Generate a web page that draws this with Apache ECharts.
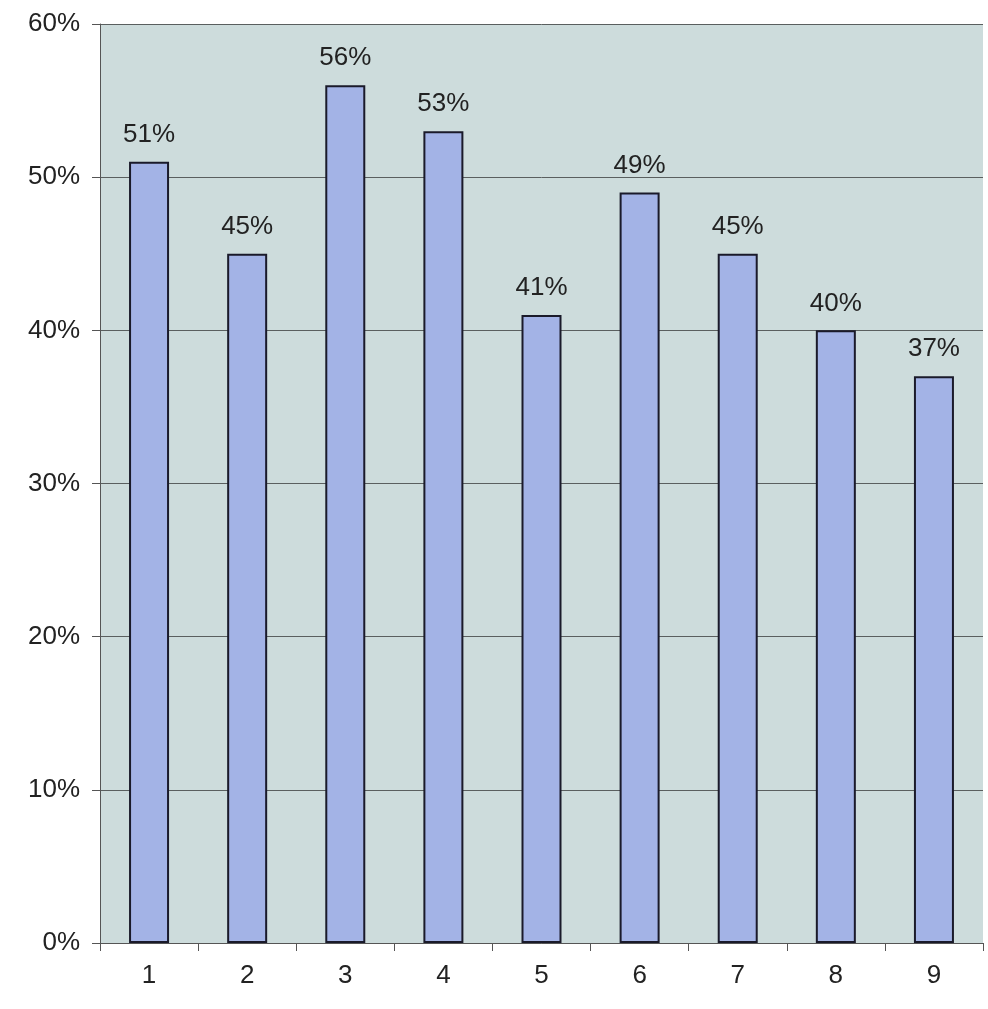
<!DOCTYPE html>
<html>
<head>
<meta charset="utf-8">
<script src="https://cdn.jsdelivr.net/npm/echarts@6/dist/echarts.min.js"></script>
<style>
  html, body { margin: 0; padding: 0; background: #fff; }
  #chart { width: 988px; height: 1009px; }
</style>
</head>
<body>
<div id="chart"></div>
<script>
var categories = ["1", "2", "3", "4", "5", "6", "7", "8", "9"];
var shares = [51, 45, 56, 53, 41, 49, 45, 40, 37];
var yTicks = [0, 10, 20, 30, 40, 50, 60];

var chart = echarts.init(document.getElementById("chart"));
chart.setOption({
  animation: false,
  backgroundColor: "#ffffff",
  textStyle: { fontFamily: "Liberation Sans, Arial, sans-serif" },
  grid: {
    left: 100,
    right: 5,
    top: 24,
    bottom: 66,
    show: true,
    backgroundColor: "#cddcdc",
    borderWidth: 0
  },
  xAxis: {
    type: "category",
    data: categories,
    boundaryGap: true,
    axisLine: { lineStyle: { color: "#555", width: 1 } },
    axisTick: { show: true, alignWithLabel: false, length: 8, lineStyle: { color: "#555" } },
    axisLabel: { color: "#222", fontSize: 26, margin: 20 }
  },
  yAxis: {
    type: "value",
    min: yTicks[0],
    max: yTicks[yTicks.length - 1],
    interval: 10,
    axisLine: { show: true, lineStyle: { color: "#555", width: 1 } },
    axisTick: { show: true, length: 8, lineStyle: { color: "#555" } },
    axisLabel: { color: "#222", fontSize: 26, margin: 20, formatter: "{value}%" },
    splitLine: { show: true, lineStyle: { color: "#5a5f5f", width: 1 } }
  },
  series: [
    {
      type: "bar",
      data: shares,
      barWidth: 40,
      itemStyle: {
        color: "#a3b3e6",
        borderColor: "#1a1a2a",
        borderWidth: 2
      },
      label: {
        show: true,
        position: "top",
        distance: 14,
        color: "#222",
        fontSize: 26,
        formatter: "{c}%"
      }
    }
  ]
});
</script>
</body>
</html>
